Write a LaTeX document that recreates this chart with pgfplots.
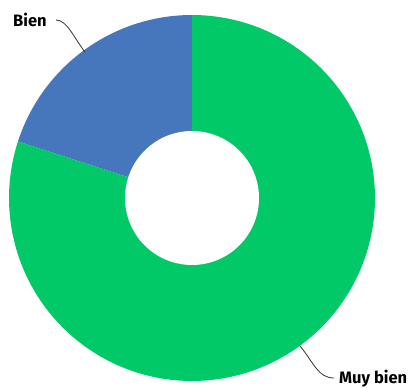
\documentclass[border=0pt]{standalone}
\usepackage{pgfplots}
\pgfplotsset{compat=1.18}
\usepackage{fontspec}
\setmainfont{Fira Sans}
\definecolor{cgreen}{RGB}{2,201,104}
\definecolor{cblue}{RGB}{70,119,188}
\definecolor{cline}{RGB}{50,50,50}
% data (percent)
\def\vBien{20}
\def\vMuy{80}
\pgfmathsetmacro{\aStart}{90}
\pgfmathsetmacro{\aMid}{90+3.6*\vBien}
\pgfmathsetmacro{\aEnd}{90+3.6*(\vBien+\vMuy)}
\begin{document}
\begin{tikzpicture}
\begin{axis}[
  width=408bp, height=388bp, scale only axis,
  xmin=0, xmax=408, ymin=0, ymax=388,
  hide axis, clip=false,
]
\coordinate (SW) at (axis cs:0,0);
\coordinate (NE) at (axis cs:408,388);
\addplot[fill=cblue, draw=none, domain=\aStart:\aMid, samples=80, variable=\t]
  ({192+183*cos(t)},{190+183*sin(t)}) -- (axis cs:192,190) -- cycle;
\addplot[fill=cgreen, draw=none, domain=\aMid:\aEnd, samples=200, variable=\t]
  ({192+183*cos(t)},{190+183*sin(t)}) -- (axis cs:192,190) -- cycle;
\addplot[fill=white, draw=none, domain=0:360, samples=120, variable=\t]
  ({192+67*cos(t)},{190+67*sin(t)}) -- cycle;
\draw[cline, line width=0.8bp] (axis cs:56,368) .. controls (axis cs:67,368) and (axis cs:74,350) .. (axis cs:85,336);
\draw[cline, line width=0.8bp] (axis cs:300,42) .. controls (axis cs:314,25) and (axis cs:318,10) .. (axis cs:334,10);
\node[anchor=west, inner sep=0pt, font=\fontsize{16.5bp}{19bp}\selectfont\bfseries] at (axis cs:13,368) {Bien};
\node[anchor=west, inner sep=0pt, font=\fontsize{16.5bp}{19bp}\selectfont\bfseries] at (axis cs:339,9) {Muy bien};
\end{axis}
\pgfresetboundingbox
\path[use as bounding box] (SW) rectangle (NE);
\end{tikzpicture}
\end{document}
